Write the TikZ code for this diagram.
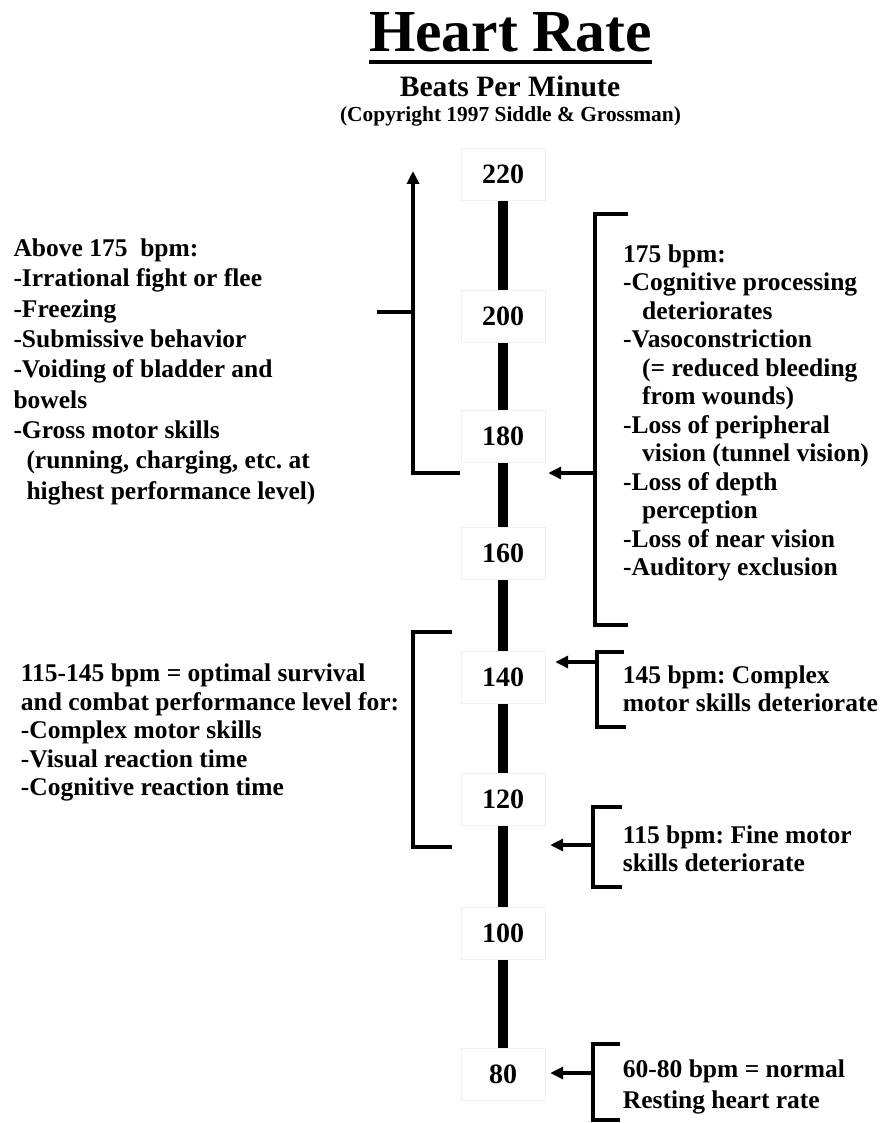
\documentclass[tikz,border=0pt]{standalone}
\usepackage{fontspec}
\setmainfont{Liberation Serif}
\usetikzlibrary{arrows.meta, backgrounds}
\frenchspacing

\begin{document}
\begin{tikzpicture}[
    x=1pt, y=-1pt,
    numbox/.style={draw=black!6, fill=white, minimum width=84pt,
                   minimum height=52pt, inner sep=0pt,
                   font=\bfseries\fontsize{28}{30}\selectfont},
    note/.style={anchor=north west, align=left, inner sep=0pt,
                 font=\bfseries\fontsize{25.5}{28.5}\selectfont},
    brk/.style={line width=3.5pt},
    arrow/.style={brk, -{Triangle[length=13pt, width=12pt]}},
    axis/.style={line width=10pt}
  ]
  \useasboundingbox (0,0) rectangle (881,1123);

  % heading
  \node[inner sep=0pt, anchor=base, font=\bfseries\fontsize{59.6}{60}\selectfont]
    (title) at (510.5,52) {Heart Rate};
  \draw[line width=4.5pt] ([yshift=-10pt]title.base west) -- ([yshift=-10pt]title.base east);
  \node[inner sep=0pt, anchor=base, font=\bfseries\fontsize{29.6}{30}\selectfont]
    (sub) at (510,96.5) {Beats Per Minute};
  \node[inner sep=0pt, anchor=base, font=\bfseries\fontsize{21.4}{22}\selectfont]
    (copy) at (510.5,121.5) {(Copyright 1997 Siddle \& Grossman)};

  % scale
  \node[numbox] (n220) at (503,174)    {220};
  \node[numbox] (n200) at (503,316)    {200};
  \node[numbox] (n180) at (503,436)    {180};
  \node[numbox] (n160) at (503,553)    {160};
  \node[numbox] (n140) at (503,677.5)  {140};
  \node[numbox] (n120) at (503,799.5)  {120};
  \node[numbox] (n100) at (503,933)    {100};
  \node[numbox] (n80)  at (503,1074.5) {80};
  \begin{scope}[on background layer]
    \draw[axis] (n220) -- (n80);
  \end{scope}

  % above 175
  \coordinate (upTop)  at (413,171);
  \coordinate (upBot)  at (413,473);
  \coordinate (upEnd)  at (460,473);
  \coordinate (upTick) at (377,312);
  \draw[arrow] (upEnd) -- (upBot) -- (upTop);
  \draw[brk] (upTick) -- (upTick -| upBot);
  \node[note, font=\bfseries\fontsize{25.5}{30.3}\selectfont] (above) at (13.3,238.8)
    {Above 175~ bpm:\\
     -Irrational fight or flee\\
     -Freezing\\
     -Submissive behavior\\
     -Voiding of bladder and\\
     bowels\\
     -Gross motor skills\\
     \hspace*{13pt}(running, charging, etc. at\\
     \hspace*{13pt}highest performance level)};

  % 175
  \coordinate (a175) at (595,473);
  \draw[brk] (628,214) -- (595,214) -- (595,625) -- (628,625);
  \draw[arrow] (a175) -- ([xshift=3pt]n180.east |- a175);
  \node[note] (r175) at (623,244.5)
    {175 bpm:\\
     -Cognitive processing\\
     \hspace*{19pt}deteriorates\\
     -Vasoconstriction\\
     \hspace*{19pt}(= reduced bleeding\\
     \hspace*{19pt}from wounds)\\
     -Loss of peripheral\\
     \hspace*{19pt}vision (tunnel vision)\\
     -Loss of depth\\
     \hspace*{19pt}perception\\
     -Loss of near vision\\
     -Auditory exclusion};

  % optimal range
  \draw[brk] (452,632) -- (413,632) -- (413,847) -- (452,847);
  \node[note] (optimal) at (20.7,663.8)
    {115-145 bpm = optimal survival\\
     and combat performance level for:\\
     -Complex motor skills\\
     -Visual reaction time\\
     -Cognitive reaction time};

  % 145
  \coordinate (a145) at (597,662);
  \draw[brk] (624,652) -- (597,652) -- (597,727) -- (626,727);
  \draw[arrow] (a145) -- ([xshift=10pt]n140.east |- a145);
  \node[note] (r145) at (622.7,665.5)
    {145 bpm: Complex\\
     motor skills deteriorate};

  % 115
  \coordinate (a115) at (593,845);
  \draw[brk] (622,807) -- (593,807) -- (593,887) -- (622,887);
  \draw[arrow] (a115) -- ([xshift=5pt]n120.east |- a115);
  \node[note] (r115) at (622.7,825.5)
    {115 bpm: Fine motor\\
     skills deteriorate};

  % resting
  \coordinate (a80) at (593,1073);
  \draw[brk] (620,1044) -- (593,1044) -- (593,1120) -- (620,1120);
  \draw[arrow] (a80) -- ([xshift=5pt]n80.east |- a80);
  \node[note, font=\bfseries\fontsize{25.5}{31}\selectfont] (r80) at (622.7,1059.5)
    {60-80 bpm = normal\\
     Resting heart rate};
\end{tikzpicture}
\end{document}
